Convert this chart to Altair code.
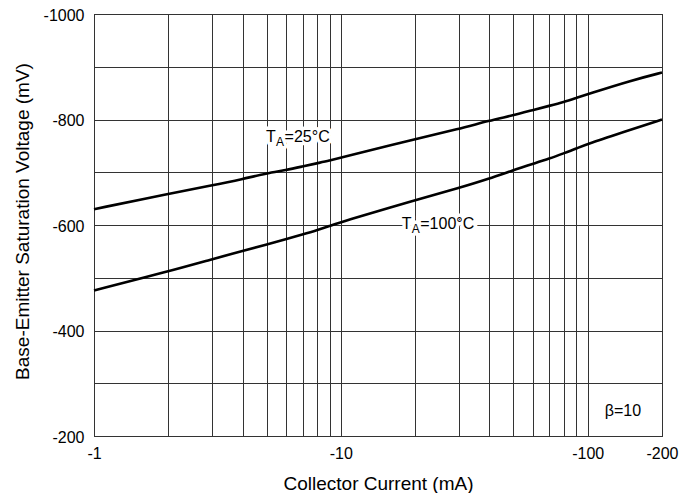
import altair as alt
import pandas as pd

# ---- data ----
ic_25 = [1, 2, 3, 4, 5, 6, 7, 8, 9, 10, 20, 30, 40, 50, 60, 70, 80, 90, 100, 150, 200]
vbe_25 = [-630, -659, -675, -687, -698, -704, -711, -717, -722, -728, -763, -782, -798, -808,
          -818, -826, -833, -841, -848, -874, -889]

ic_100 = [1, 2, 3, 4, 5, 6, 7, 8, 9, 10, 20, 30, 40, 50, 60, 70, 80, 90, 100, 150, 200]
vbe_100 = [-476, -512, -535, -551, -563, -573, -582, -590, -598, -606, -647, -670, -688, -704,
           -716, -726, -736, -745, -754, -781, -800]

x_grid = [1, 2, 3, 4, 5, 6, 7, 8, 9, 10, 20, 30, 40, 50, 60, 70, 80, 90, 100, 200]
x_labels = [1, 10, 100, 200]
y_grid = [-1000, -900, -800, -700, -600, -500, -400, -300, -200]

label_x = [4.98, 17.65]
label_y = [-758, -591.5]
label_rest = ["=25°C", "=100°C"]

beta_x = [139]
beta_y = [-238]
beta_text = ["β=10"]

FONT = "Liberation Sans"

curves = pd.DataFrame(
    {"ic": ic_25 + ic_100,
     "vbe": vbe_25 + vbe_100,
     "series": ["25"] * len(ic_25) + ["100"] * len(ic_100)}
)
labels = pd.DataFrame({"x": label_x, "y": label_y, "rest": label_rest, "t": ["T", "T"], "a": ["A", "A"]})
beta = pd.DataFrame({"x": beta_x, "y": beta_y, "text": beta_text})

xscale = alt.Scale(type="log", domain=[1, 200], nice=False)
yscale = alt.Scale(domain=[-1000, -200], reverse=True, nice=False, zero=False)

label_expr_x = "indexof([" + ",".join(str(v) for v in x_labels) + "], datum.value) >= 0 ? '-' + datum.value : ''"

xaxis = alt.Axis(
    values=x_grid, labelExpr=label_expr_x, title="Collector Current (mA)",
    grid=True, gridColor="#333333", gridWidth=1, ticks=False, domain=False,
    labelOverlap=False, labelFlush=False, labelBound=False, labelPadding=9,
    labelFont=FONT, labelFontSize=16, labelColor="black",
    titleFont=FONT, titleFontSize=19, titleFontWeight="normal", titleColor="black",
    titleX=284, titleY=53, titleBaseline="alphabetic", titleAlign="center",
)
yaxis = alt.Axis(
    values=y_grid, labelExpr="datum.value % 200 == 0 ? '' + datum.value : ''",
    title="Base-Emitter Saturation Voltage (mV)",
    grid=True, gridColor="#333333", gridWidth=1, ticks=False, domain=False,
    labelOverlap=False, labelPadding=10, labelBound=False, labelOffset=1,
    labelFont=FONT, labelFontSize=16, labelColor="black",
    titleFont=FONT, titleFontSize=19, titleFontWeight="normal", titleColor="black",
    titleX=-66, titleY=207, titleAngle=-90, titleBaseline="alphabetic", titleAlign="center",
)

lines = alt.Chart(curves).mark_line(color="black", strokeWidth=2.6, interpolate="basis").encode(
    x=alt.X("ic:Q", scale=xscale, axis=xaxis),
    y=alt.Y("vbe:Q", scale=yscale, axis=yaxis),
    detail="series:N",
)

lbase = alt.Chart(labels).encode(
    x=alt.X("x:Q", scale=xscale), y=alt.Y("y:Q", scale=yscale)
)

def piece(field, size, dx, dy, halo):
    kw = dict(align="left", baseline="alphabetic", font=FONT, fontSize=size, dx=dx, dy=dy)
    if halo:
        m = lbase.mark_text(color="white", stroke="white", strokeWidth=7, strokeJoin="round", **kw)
    else:
        m = lbase.mark_text(color="black", **kw)
    return m.encode(text=f"{field}:N")

halos = [piece("t", 16, 0, 0, True), piece("a", 12, 10, 4, True), piece("rest", 16, 18.5, 0, True)]
texts = [piece("t", 16, 0, 0, False), piece("a", 12, 10, 4, False), piece("rest", 16, 18.5, 0, False)]

beta_mark = alt.Chart(beta).mark_text(
    align="center", baseline="alphabetic", font=FONT, fontSize=16, color="black"
).encode(x=alt.X("x:Q", scale=xscale), y=alt.Y("y:Q", scale=yscale), text="text:N")

chart = alt.layer(lines, *halos, *texts, beta_mark).properties(
    width=568, height=422,
    autosize=alt.AutoSizeParams(type="none"),
    padding={"left": 86, "top": 6, "right": 24, "bottom": 57},
    background="white",
).configure_view(stroke="black", strokeWidth=1)

chart.save("out.html", embed_options={"renderer": "svg", "actions": False})
